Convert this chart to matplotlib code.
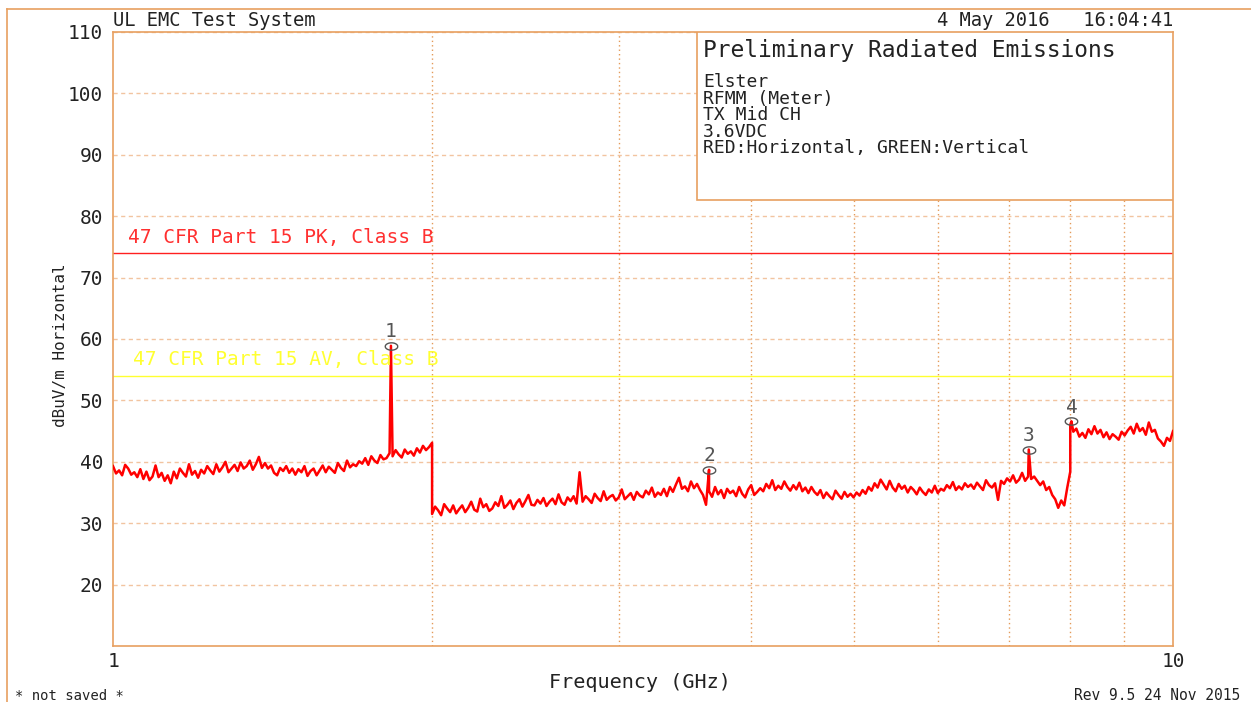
import numpy as np
import matplotlib
matplotlib.use("Agg")
import matplotlib.pyplot as plt
from matplotlib.path import Path
from matplotlib.patches import Rectangle
from matplotlib.lines import Line2D

# ---- measured levels (dBuV/m), horizontal polarisation, one list per sweep band ----
band1_levels = [
    39.3, 38.1, 38.6, 37.8, 39.5, 38.9, 37.9, 38.3, 37.5, 38.8,
    37.2, 38.4, 37.0, 37.6, 39.4, 37.5, 38.2, 36.9, 37.8, 36.5,
    38.4, 37.3, 38.9, 38.2, 37.6, 39.6, 37.9, 38.5, 37.4, 38.7,
    38.1, 39.3, 38.6, 38.0, 39.6, 38.4, 39.1, 40.0, 38.3, 38.9,
    39.5, 38.5, 39.9, 38.9, 39.3, 40.2, 38.7, 39.6, 40.8, 39.0,
    39.8, 38.9, 39.4, 38.2, 37.8, 39.0, 38.5, 39.3, 38.2, 38.9,
    37.9, 38.8, 38.3, 39.3, 37.7, 38.5, 38.9, 37.8, 38.6, 39.4,
    38.3, 39.2, 38.7, 38.2, 39.8, 39.0, 38.5, 40.2, 39.1, 39.6,
    39.3, 40.1, 39.7, 40.6, 39.5, 40.9, 40.2, 39.8, 41.1, 40.4,
    40.6, 41.4, 40.9, 41.9, 41.2, 40.7, 42.0, 41.3, 41.7, 41.0,
    42.2, 41.5, 42.6, 41.9, 42.4, 43.1,
]
band2_levels = [
    31.5, 32.7, 32.1, 31.3, 33.1, 32.4, 31.8, 32.9, 31.6, 32.3,
    32.9, 31.8, 32.5, 33.5, 32.2, 31.9, 34.0, 32.6, 33.1, 32.0,
    32.4, 33.4, 32.8, 34.4, 32.5, 33.0, 33.7, 32.3, 33.3, 33.9,
    32.7, 33.6, 34.6, 33.0, 32.9, 33.8, 33.2, 34.1, 32.8, 33.5,
    34.0, 33.1, 34.7, 33.4, 33.0, 34.2, 33.6, 34.4, 33.2, 38.3,
    33.5, 34.4, 33.9, 33.3, 34.8, 34.1, 33.6, 35.2, 33.8, 34.3,
    34.6, 33.7, 34.2, 35.5, 33.9, 34.4, 34.9, 33.8, 35.1, 34.5,
    34.2, 35.3, 34.7, 35.8, 34.3, 35.0, 34.6, 35.6, 34.4, 35.9,
    35.1, 36.3, 37.4, 35.6, 36.0, 35.2, 36.8, 35.7, 36.4, 35.4,
    34.6, 33.0, 35.2, 34.3, 35.9, 34.7, 35.4, 34.1, 35.6, 34.9,
    35.3, 34.4, 35.9, 34.8, 34.2, 35.5, 36.2, 34.6, 35.1, 35.7,
    35.2, 36.4, 35.7, 37.0, 35.4, 36.1, 35.6, 36.8, 35.9, 35.3,
    36.2, 35.5, 36.6, 35.2, 35.8, 34.9, 35.9, 35.1, 34.6, 35.4,
    34.1, 35.0, 34.4, 33.9, 35.3, 34.6, 34.0, 35.1, 34.3, 34.8,
    34.2, 35.0, 34.5, 35.4, 34.8, 35.9, 35.3, 36.5, 35.8, 37.1,
    36.3, 35.5, 36.9, 35.8, 35.2, 36.4, 35.6, 36.1, 35.0, 35.9,
    35.4, 34.7, 35.8, 35.1, 34.6, 35.5, 35.0, 36.1, 34.9, 35.6,
    35.3, 36.2, 35.7, 36.7, 35.4, 36.0, 35.5, 36.5, 35.9, 36.3,
    35.6, 36.6, 36.0, 35.4, 37.0, 36.2, 35.8, 36.5, 33.8, 36.9,
    36.4, 37.3, 36.8, 37.8, 36.6, 37.1, 38.2, 36.9, 37.6, 37.2,
    37.6, 36.9, 36.2, 36.8, 35.4, 35.9, 34.6, 33.9, 32.5, 33.7,
    32.9, 35.8, 38.4,
]
band3_levels = [
    46.0, 44.9, 45.4, 44.1, 44.7, 43.9, 45.3, 44.5, 45.8, 44.6,
    45.2, 44.0, 44.8, 43.7, 44.5, 44.1, 43.6, 44.9, 44.3, 45.1,
    45.7, 44.6, 46.2, 45.0, 45.5, 44.4, 46.4, 44.9, 45.2, 43.8,
    43.3, 42.6, 43.9, 43.4, 45.0,
]
band_edges_ghz = [(1.0, 2.0), (2.0, 8.0), (8.0, 10.0)]

# ---- peak markers ----
marker_ids = ["1", "2", "3", "4"]
marker_freq = [1.829, 3.650, 7.31, 8.02]
marker_level = [58.9, 38.7, 42.0, 46.6]

# ---- limit lines ----
limit_pk = 74.0
limit_av = 54.0
limit_pk_label = "47 CFR Part 15 PK, Class B"
limit_av_label = "47 CFR Part 15 AV, Class B"

# ---- axes ticks ----
y_ticks = [20, 30, 40, 50, 60, 70, 80, 90, 100, 110]
x_ticks = [1, 10]
x_tick_labels = ["1", "10"]
x_grid = [2, 3, 4, 5, 6, 7, 8, 9]

info_title = "Preliminary Radiated Emissions"
info_lines = ["Elster", "RFMM (Meter)", "TX Mid CH", "3.6VDC",
              "RED:Horizontal, GREEN:Vertical"]

W, H = 1251, 702
FONT = ["DejaVu Sans Mono"]
ORANGE = "#E8A060"
GRID_H = "#F2C4A0"
GRID_V = "#E49A58"
INK = "#222222"

plt.rcParams["font.family"] = FONT


def px(x, y):
    return x / W, 1 - y / H


fig = plt.figure(figsize=(W / 100, H / 100), dpi=100)
fig.patch.set_facecolor("white")

# outer plotter frame
fig.add_artist(Line2D([7 / W, 7 / W], [0, 1 - 9 / H], color=ORANGE, lw=1.2))
fig.add_artist(Line2D([7 / W, 1], [1 - 9 / H, 1 - 9 / H], color=ORANGE, lw=1.2))

ax = fig.add_axes([113 / W, 56 / H, 1060 / W, 614 / H])
ax.set_xscale("log")
ax.set_xlim(1, 10)
ax.set_ylim(10, 110)

for s in ax.spines.values():
    s.set_color(ORANGE)
    s.set_linewidth(1.2)

ax.set_xticks(x_ticks)
ax.set_xticklabels(x_tick_labels)
ax.set_xticks(x_grid, minor=True)
ax.xaxis.set_minor_formatter(matplotlib.ticker.NullFormatter())
ax.set_yticks(y_ticks)
ax.set_yticklabels([str(v) for v in y_ticks])
ax.tick_params(which="both", length=0)
ax.tick_params(axis="y", pad=7, labelsize=14, labelcolor=INK)
ax.tick_params(axis="x", pad=4, labelsize=14, labelcolor=INK)

ax.grid(True, axis="y", which="major", color=GRID_H, lw=1.0,
        ls=(0, (3, 2.5)), zorder=1)
ax.grid(True, axis="x", which="minor", color=GRID_V, lw=1.0,
        ls=(0, (1, 2.2)), zorder=1)
ax.grid(False, axis="x", which="major")

# limit lines and their labels
ax.axhline(limit_pk, color="#FF2020", lw=1.0, zorder=2)
ax.axhline(limit_av, color="#FFFF30", lw=1.0, zorder=2)
fig.text(*px(128, 237), limit_pk_label, color="#FF3030", fontsize=14,
         ha="left", va="center")
fig.text(*px(133, 360), limit_av_label, color="#FFFF30", fontsize=14,
         ha="left", va="center")

# measured trace: sweep bands plus marker peaks, in frequency order
f_parts, l_parts = [], []
for (f0, f1), lv in zip(band_edges_ghz, [band1_levels, band2_levels, band3_levels]):
    f_parts.append(np.geomspace(f0, f1, len(lv)))
    l_parts.append(np.asarray(lv, dtype=float))
f_all = np.concatenate(f_parts + [np.asarray(marker_freq)])
l_all = np.concatenate(l_parts + [np.asarray(marker_level)])
order = np.argsort(f_all, kind="stable")
ax.plot(f_all[order], l_all[order], color="#FF0000", lw=1.8, zorder=3)

# peak markers: hollow ellipse with the marker number above
t = np.linspace(0, 2 * np.pi, 41)
ellipse = Path(np.column_stack([1.7 * np.cos(t), np.sin(t)]))
ax.plot(marker_freq, marker_level, ls="none", marker=ellipse, ms=9,
        mfc="none", mec="#555555", mew=1.0, zorder=4)
for mid, mf, ml in zip(marker_ids, marker_freq, marker_level):
    ax.annotate(mid, (mf, ml), xytext=(0, 10), textcoords="offset points",
                ha="center", va="center", fontsize=14, color="#555555",
                zorder=4)

# information box in the upper right of the plot
box_x0 = (697 - 113) / 1060
box_y0 = (646 - 200) / 614
ax.add_patch(Rectangle((box_x0, box_y0), 1 - box_x0, 1 - box_y0,
                       transform=ax.transAxes, facecolor="white",
                       edgecolor=ORANGE, lw=1.2, zorder=5))
fig.text(*px(703, 50), info_title, fontsize=16.5, color=INK,
         ha="left", va="center", zorder=6)
for i, line in enumerate(info_lines):
    fig.text(*px(703, 82 + i * 16.6), line, fontsize=13, color=INK,
             ha="left", va="center", zorder=6)

# header and footer texts
fig.text(*px(113, 20), "UL EMC Test System", fontsize=13.5, color=INK,
         ha="left", va="center")
fig.text(*px(1173, 20), "4 May 2016   16:04:41", fontsize=13.5, color=INK,
         ha="right", va="center")
fig.text(*px(15, 696), "* not saved *", fontsize=10, color=INK,
         ha="left", va="center")
fig.text(*px(1240, 696), "Rev 9.5 24 Nov 2015", fontsize=10.5, color=INK,
         ha="right", va="center")

ax.set_xlabel("Frequency (GHz)", fontsize=14.5, color=INK)
ax.xaxis.set_label_coords((640 - 113) / 1060, (646 - 682) / 614)
ax.xaxis.label.set_va("center")
ax.set_ylabel("dBuV/m Horizontal", fontsize=11.5, color=INK)
ax.yaxis.set_label_coords((60 - 113) / 1060, (646 - 345) / 614)
ax.yaxis.label.set_va("center")

fig.savefig("out.png", dpi=100, facecolor="white")
